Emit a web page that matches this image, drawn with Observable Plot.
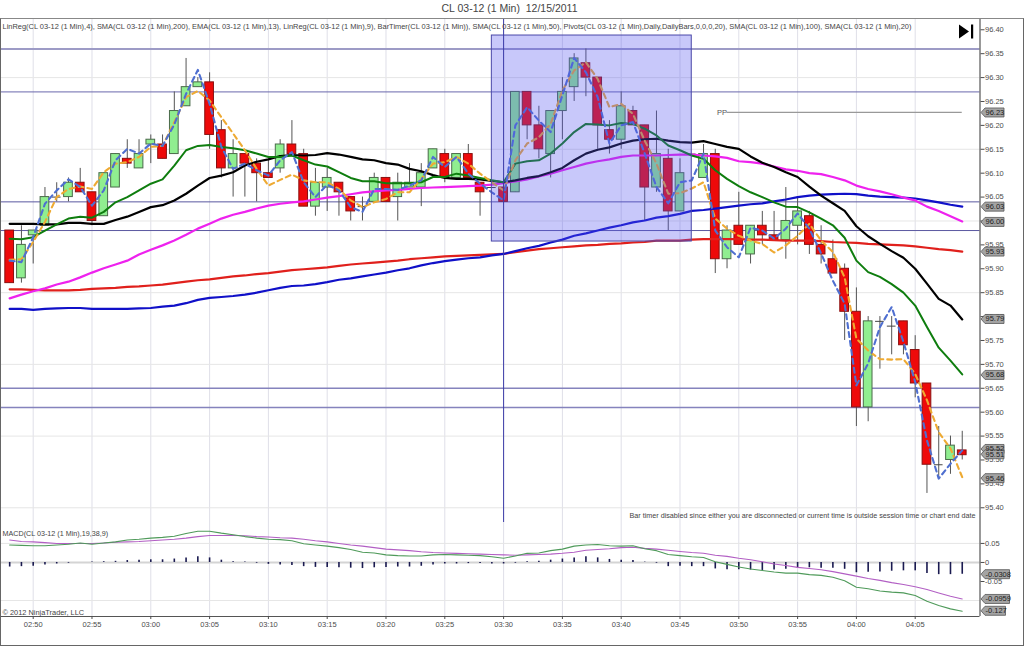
<!DOCTYPE html>
<html><head><meta charset="utf-8">
<script src="https://cdn.jsdelivr.net/npm/d3@7"></script>
<script src="https://cdn.jsdelivr.net/npm/@observablehq/plot@0.6"></script>
<style>
html,body{margin:0;padding:0;background:#fff;width:1024px;height:646px;overflow:hidden;font-family:"Liberation Sans",Arial,sans-serif}
#title{height:18px;line-height:17px;text-align:center;font-size:10.5px;color:#444;white-space:pre;padding-right:5px}
svg{display:block}
#outer{position:absolute;left:0;top:18px;width:1024px;height:628px;box-sizing:border-box;border:1px solid #666;border-top-color:#888;pointer-events:none}
</style></head><body>
<div id="title">CL 03-12 (1 Min)  12/15/2011</div>
<div id="main"></div><div id="macd"></div><div id="outer"></div>
<script>
const open_=[95.98,95.88,95.97,95.99,96.05,96.05,96.08,96.06,96.01,96.07,96.13,96.11,96.16,96.16,96.14,96.24,96.28,96.29,96.19,96.11,96.14,96.12,96.10,96.11,96.16,96.14,96.03,96.07,96.08,96.05,96.03,96.04,96.09,96.05,96.07,96.07,96.11,96.14,96.09,96.14,96.08,96.07,96.07,96.06,96.27,96.20,96.14,96.23,96.28,96.33,96.30,96.19,96.17,96.23,96.20,96.07,96.13,96.02,96.14,96.09,96.14,95.92,95.99,95.93,95.99,95.97,95.96,95.99,96.01,95.95,95.92,95.90,95.81,95.61,95.79,95.78,95.79,95.73,95.66,95.49,95.50,95.52];
const close_=[95.87,95.95,95.98,96.05,96.05,96.08,96.06,96.00,96.10,96.14,96.12,96.14,96.17,96.13,96.23,96.28,96.29,96.18,96.11,96.14,96.12,96.10,96.09,96.16,96.14,96.03,96.08,96.09,96.06,96.02,96.03,96.09,96.04,96.08,96.08,96.10,96.15,96.09,96.14,96.09,96.06,96.07,96.04,96.27,96.20,96.15,96.23,96.27,96.34,96.30,96.20,96.17,96.24,96.20,96.07,96.14,96.02,96.10,96.14,96.14,95.92,95.98,95.95,95.99,95.97,95.96,96.00,96.02,95.95,95.93,95.89,95.81,95.61,95.79,95.79,95.78,95.74,95.66,95.49,95.49,95.53,95.51];
const high_=[95.98,95.99,95.98,96.07,96.08,96.09,96.11,96.06,96.10,96.14,96.17,96.17,96.18,96.18,96.27,96.34,96.30,96.31,96.21,96.17,96.14,96.13,96.13,96.17,96.21,96.15,96.11,96.11,96.08,96.05,96.05,96.10,96.09,96.10,96.12,96.12,96.15,96.15,96.14,96.16,96.08,96.07,96.09,96.27,96.27,96.24,96.23,96.30,96.35,96.36,96.30,96.21,96.27,96.24,96.20,96.23,96.15,96.13,96.14,96.16,96.15,95.99,96.06,95.99,96.02,96.02,96.07,96.05,96.02,95.99,95.96,95.91,95.86,95.80,95.80,95.80,95.79,95.76,95.66,95.57,95.55,95.56];
const low_=[95.87,95.87,95.91,95.99,96.04,96.04,96.06,95.99,96.01,96.07,96.11,96.11,96.12,96.13,96.14,96.24,96.28,96.15,96.09,96.05,96.05,96.04,96.09,96.10,96.14,96.03,96.01,96.02,96.01,96.00,96.00,96.04,96.04,96.00,96.07,96.03,96.11,96.08,96.09,96.09,96.01,96.07,96.04,96.06,96.17,96.13,96.09,96.17,96.25,96.26,96.15,96.14,96.15,96.20,96.00,96.06,95.98,96.02,96.14,96.09,95.89,95.90,95.95,95.91,95.95,95.96,95.92,95.95,95.93,95.91,95.89,95.75,95.57,95.58,95.69,95.72,95.72,95.63,95.43,95.46,95.47,95.50];
const linReg4=[95.917,95.914,95.966,96.036,96.064,96.087,96.071,96.032,96.064,96.127,96.151,96.141,96.162,96.157,96.202,96.266,96.316,96.245,96.155,96.109,96.120,96.106,96.095,96.127,96.144,96.081,96.050,96.076,96.064,96.029,96.019,96.067,96.067,96.065,96.074,96.085,96.134,96.113,96.134,96.099,96.078,96.060,96.043,96.200,96.238,96.210,96.186,96.263,96.341,96.311,96.259,96.162,96.200,96.207,96.141,96.071,96.037,96.081,96.085,96.141,95.980,95.945,95.924,95.986,95.980,95.963,95.984,96.016,95.984,95.932,95.875,95.827,95.656,95.702,95.778,95.820,95.747,95.663,95.541,95.461,95.492,95.520];
const linReg9=[95.919,95.920,95.956,95.998,96.050,96.067,96.072,96.067,96.102,96.120,96.123,96.134,96.155,96.157,96.207,96.259,96.272,96.252,96.217,96.183,96.148,96.109,96.074,96.086,96.097,96.085,96.081,96.081,96.067,96.043,96.029,96.039,96.046,96.060,96.060,96.088,96.120,96.123,96.134,96.120,96.099,96.081,96.064,96.127,96.162,96.175,96.203,96.273,96.315,96.332,96.297,96.238,96.245,96.224,96.168,96.120,96.057,96.058,96.068,96.081,96.005,95.984,95.969,95.959,95.952,95.934,95.949,95.969,95.994,95.959,95.935,95.882,95.754,95.729,95.711,95.710,95.711,95.680,95.625,95.558,95.524,95.464];
const ema13=[95.963,95.962,95.966,95.980,95.993,96.005,96.009,96.007,96.019,96.039,96.050,96.064,96.078,96.087,96.116,96.148,96.157,96.159,96.155,96.152,96.148,96.141,96.134,96.134,96.137,96.127,96.118,96.114,96.102,96.090,96.083,96.083,96.079,96.079,96.079,96.081,96.092,96.092,96.099,96.095,96.090,96.085,96.081,96.120,96.125,96.127,96.141,96.162,96.186,96.203,96.202,96.200,96.205,96.203,96.193,96.179,96.158,96.148,96.137,96.130,96.106,96.088,96.073,96.060,96.050,96.039,96.030,96.029,96.018,96.005,95.991,95.965,95.917,95.893,95.883,95.868,95.850,95.823,95.778,95.735,95.708,95.679];
const sma20=[95.994,95.994,95.994,95.993,95.993,95.996,95.996,95.994,95.994,96.002,96.009,96.019,96.029,96.033,96.043,96.057,96.074,96.090,96.095,96.102,96.116,96.124,96.129,96.136,96.138,96.137,96.138,96.142,96.139,96.134,96.129,96.127,96.121,96.118,96.109,96.104,96.096,96.090,96.088,96.088,96.087,96.084,96.081,96.085,96.090,96.094,96.102,96.111,96.127,96.141,96.149,96.154,96.162,96.168,96.171,96.172,96.168,96.165,96.164,96.167,96.161,96.155,96.151,96.135,96.122,96.113,96.102,96.092,96.072,96.053,96.037,96.021,95.989,95.968,95.952,95.937,95.923,95.900,95.869,95.837,95.823,95.794];
const sma50=[95.838,95.846,95.853,95.859,95.867,95.873,95.882,95.892,95.901,95.909,95.917,95.930,95.940,95.949,95.959,95.971,95.984,95.994,96.005,96.013,96.019,96.026,96.032,96.036,96.039,96.041,96.045,96.049,96.052,96.056,96.060,96.062,96.064,96.065,96.067,96.069,96.070,96.071,96.072,96.073,96.074,96.076,96.079,96.083,96.087,96.093,96.099,96.106,96.113,96.120,96.125,96.129,96.134,96.137,96.137,96.137,96.138,96.139,96.139,96.137,96.135,96.132,96.125,96.123,96.120,96.114,96.108,96.105,96.100,96.098,96.092,96.085,96.074,96.067,96.062,96.056,96.049,96.043,96.030,96.021,96.010,95.999];
const sma100=[95.816,95.816,95.814,95.816,95.817,95.818,95.818,95.816,95.816,95.816,95.816,95.817,95.818,95.821,95.823,95.828,95.835,95.839,95.841,95.843,95.846,95.850,95.855,95.860,95.864,95.865,95.868,95.872,95.877,95.880,95.884,95.888,95.892,95.897,95.901,95.907,95.912,95.916,95.919,95.922,95.924,95.928,95.931,95.937,95.943,95.948,95.955,95.961,95.969,95.974,95.980,95.986,95.991,95.997,96.001,96.007,96.010,96.015,96.021,96.023,96.026,96.029,96.032,96.035,96.037,96.041,96.045,96.050,96.053,96.055,96.056,96.057,96.056,96.053,96.051,96.050,96.049,96.047,96.043,96.039,96.034,96.030];
const sma200=[95.857,95.857,95.856,95.855,95.855,95.855,95.856,95.858,95.859,95.860,95.862,95.863,95.865,95.867,95.870,95.873,95.876,95.878,95.881,95.884,95.886,95.889,95.891,95.894,95.897,95.899,95.901,95.903,95.906,95.909,95.911,95.913,95.915,95.917,95.920,95.922,95.924,95.926,95.927,95.928,95.929,95.930,95.931,95.935,95.938,95.941,95.943,95.945,95.947,95.949,95.950,95.952,95.953,95.955,95.956,95.959,95.959,95.959,95.961,95.962,95.962,95.962,95.962,95.961,95.961,95.960,95.959,95.959,95.959,95.958,95.956,95.955,95.954,95.952,95.951,95.950,95.949,95.947,95.944,95.941,95.939,95.936];
const macdLine=[.046,.045,.044,.044,.046,.048,.051,.048,.051,.054,.059,.061,.064,.066,.069,.076,.082,.082,.077,.073,.068,.064,.061,.060,.057,.049,.046,.043,.039,.034,.027,.025,.020,.018,.017,.017,.020,.021,.020,.019,.018,.015,.011,.017,.024,.025,.031,.035,.043,.046,.047,.044,.043,.044,.036,.031,.021,.018,.015,.013,.002,-.005,-.012,-.017,-.021,-.025,-.028,-.028,-.032,-.034,-.039,-.048,-.065,-.069,-.075,-.078,-.080,-.087,-.102,-.113,-.122,-.128];
const signalLine=[.059,.055,.054,.052,.050,.050,.050,.050,.051,.053,.054,.055,.057,.059,.061,.064,.068,.071,.071,.071,.070,.068,.067,.065,.064,.061,.057,.054,.050,.046,.043,.039,.035,.033,.031,.028,.026,.025,.024,.023,.022,.021,.020,.019,.020,.021,.022,.024,.027,.032,.034,.036,.039,.040,.037,.035,.032,.029,.026,.024,.019,.016,.011,.007,.002,-.004,-.008,-.013,-.016,-.019,-.024,-.030,-.036,-.042,-.047,-.053,-.058,-.064,-.071,-.080,-.089,-.096];
const macdHist=[-.012,-.011,-.010,-.007,-.004,-.002,0,.001,.002,.003,.005,.006,.007,.007,.009,.012,.015,.012,.006,.002,.001,-.002,-.005,-.007,-.008,-.011,-.013,-.013,-.014,-.015,-.016,-.014,-.013,-.012,-.012,-.010,-.007,-.004,-.004,-.003,-.003,-.004,-.004,-.002,.002,.003,.006,.009,.012,.015,.012,.008,.006,.005,.001,-.002,-.011,-.010,-.011,-.011,-.017,-.019,-.019,-.020,-.021,-.020,-.018,-.014,-.014,-.015,-.015,-.018,-.027,-.026,-.025,-.023,-.022,-.022,-.029,-.032,-.032,-.031];
const hLevels=[[96.36,2,"#9d9bc6"],[96.27,1,"#6a68ad"],[96.04,1,"#5a58a0"],[95.98,1,"#5a58a0"],[95.65,1.5,"#8583bd"],[95.61,1.5,"#8583bd"]];
const priceTicks=d3.range(0,21).map(i=>+(95.40+i*0.05).toFixed(2));
const priceGrid=[96.30,96.15,96.00,95.85,95.70,95.55,95.40];
const priceTags=["96.23","96.03","96.00","95.93","95.79","95.68","95.52","95.51","95.46"];
const priceTagLevels=[96.227,96.030,95.998,95.936,95.795,95.678,95.523,95.512,95.462];
const macdTags=["-0.0308","-0.0959","-0.127"];
const timeLabels=["02:50","02:55","03:00","03:05","03:10","03:15","03:20","03:25","03:30","03:35","03:40","03:45","03:50","03:55","04:00","04:05"];
const timeBars=timeLabels.map((_,i)=>2+i*5);
const pp=[{x1:61,x2:81,v:96.227}];
const box=[{x1:41,x2:58,y1:95.957,y2:96.388}];
const cursorBar=42;
const legendText="LinReg(CL 03-12 (1 Min),4), SMA(CL 03-12 (1 Min),200), EMA(CL 03-12 (1 Min),13), LinReg(CL 03-12 (1 Min),9), BarTimer(CL 03-12 (1 Min)), SMA(CL 03-12 (1 Min),50), Pivots(CL 03-12 (1 Min),Daily,DailyBars,0,0,0,20), SMA(CL 03-12 (1 Min),100), SMA(CL 03-12 (1 Min),20)";
const timerText="Bar timer disabled since either you are disconnected or current time is outside session time or chart end date";

const bars=open_.map((o,i)=>({i,o,c:close_[i],h:high_[i],l:low_[i]}));
const xDomain=[-0.78,82.51];
const yDomain=[95.3692,96.4236];
const mDomain=[-0.142,0.105];
const FONT="'Liberation Sans',Arial,sans-serif";
const tag=w=>({draw(c){c.moveTo(1,0);c.lineTo(5,-4.5);c.lineTo(w,-4.5);c.lineTo(w,4.5);c.lineTo(5,4.5);c.closePath();}});
const skip={draw(c){c.moveTo(-21,-7);c.lineTo(-11,0);c.lineTo(-21,7);c.closePath();c.moveTo(-9,-7);c.lineTo(-6.8,-7);c.lineTo(-6.8,7);c.lineTo(-9,7);c.closePath();}};
const line=(arr,stroke,w,extra={})=>Plot.line(arr,{x:(d,i)=>i,y:d=>d,stroke,strokeWidth:w,...extra});
const dash={strokeDasharray:"5,4"};
const up=bars.filter(d=>d.c>d.o), down=bars.filter(d=>d.c<d.o), doji=bars.filter(d=>d.c===d.o);
const HW=0.37;

const main=Plot.plot({
  width:1024,height:504,marginLeft:0,marginRight:44.5,marginTop:0,marginBottom:0,
  x:{domain:xDomain,axis:null},y:{domain:yDomain,axis:null},
  style:{fontFamily:FONT,color:"#4c4c4c",background:"transparent"},
  marks:[
    Plot.gridX(timeBars,{stroke:"#dfdfe8",strokeOpacity:1}),
    Plot.gridY(priceGrid,{stroke:"#e6e6e6",strokeOpacity:1}),
    Plot.ruleY(hLevels,{y:d=>d[0],strokeWidth:d=>d[1],stroke:d=>d[2]}),
    Plot.ruleX(bars,{x:"i",y1:"l",y2:"h",stroke:"#555",strokeWidth:1}),
    Plot.rect(up,{x1:d=>d.i-HW,x2:d=>d.i+HW,y1:"o",y2:"c",fill:"#90ee90",stroke:"#4a6a4a",inset:0}),
    Plot.rect(down,{x1:d=>d.i-HW,x2:d=>d.i+HW,y1:"o",y2:"c",fill:"#ee0a0a",stroke:"#8a1010",inset:0}),
    Plot.ruleY(doji,{x1:d=>d.i-HW,x2:d=>d.i+HW,y:"o",stroke:"#444"}),
    line(sma200,"#e0201c",2.2),
    line(sma100,"#1010c8",2.2),
    line(sma50,"#ee22ee",2.2),
    line(sma20,"#000",2.2),
    line(ema13,"#0e7d0e",2),
    line(linReg9,"#eeaa33",2.1,dash),
    line(linReg4,"#4f6fd0",2.1,dash),
    Plot.ruleY(pp,{x1:"x1",x2:"x2",y:"v",stroke:"#999",strokeWidth:1.2}),
    Plot.text(pp,{x:"x1",y:"v",text:()=>"PP",textAnchor:"end",dx:0,fontSize:7.5,fill:"#555"}),
    Plot.rect(box,{x1:"x1",x2:"x2",y1:"y1",y2:"y2",fill:"#5555ee",fillOpacity:0.32,stroke:"#4a48a8",strokeWidth:1}),
    Plot.ruleX([cursorBar],{stroke:"#3c3ca8",strokeWidth:1}),
    Plot.ruleX([xDomain[1]],{stroke:"#555",strokeWidth:1.2}),
    Plot.ruleY([yDomain[0]],{stroke:"#555",strokeWidth:1.2}),
    Plot.axisY(priceTicks,{anchor:"right",tickFormat:d=>d.toFixed(2),tickSize:4,tickPadding:1,fontSize:7.5,label:null}),
    Plot.text([legendText],{text:d=>d,frameAnchor:"top-left",dx:2,dy:5.5,fontSize:7.45,fill:"#444",lineWidth:Infinity}),
    Plot.text([timerText],{text:d=>d,frameAnchor:"bottom-right",dx:-4.5,dy:-5,fontSize:7.2,fill:"#444"}),
    Plot.dot(priceTagLevels,{y:d=>d,frameAnchor:"right",symbol:tag(24),fill:"#a4a4a4",stroke:"#555",strokeWidth:.8}),
    Plot.text(priceTags,{text:d=>d,y:(d,i)=>priceTagLevels[i],frameAnchor:"right",textAnchor:"start",dx:5.5,fontSize:7.5,fill:"#222"}),
    Plot.dot([0],{frameAnchor:"top-right",dy:13,symbol:skip,fill:"#000",stroke:"none"})
  ]
});
document.getElementById("main").append(main);

const macd=Plot.plot({
  width:1024,height:124,marginLeft:0,marginRight:44.5,marginTop:0,marginBottom:30,
  x:{domain:xDomain,axis:null},y:{domain:mDomain,axis:null},
  style:{fontFamily:FONT,color:"#4c4c4c",background:"transparent"},
  marks:[
    Plot.gridX(timeBars,{stroke:"#dfdfe8",strokeOpacity:1}),
    Plot.gridY([0.05,-0.1],{stroke:"#e6e6e6",strokeOpacity:1}),
    Plot.ruleY([0],{stroke:"#d4d4d4",strokeWidth:2}),
    Plot.ruleX(macdHist,{x:(d,i)=>i,y1:0,y2:d=>d,stroke:"#1a1a50",strokeWidth:1.6}),
    line(signalLine,"#b25fc4",1.1),
    line(macdLine,"#4f9a5a",1.1),
    Plot.ruleX([xDomain[1]],{stroke:"#555",strokeWidth:1.2}),
    Plot.ruleY([mDomain[0]],{stroke:"#555",strokeWidth:1.2}),
    Plot.axisY([0.05,0,-0.05],{anchor:"right",tickFormat:d=>d===0?"0":d.toFixed(2),tickSize:4,tickPadding:1,fontSize:7.5,label:null}),
    Plot.axisX(timeBars,{anchor:"bottom",tickFormat:d=>timeLabels[timeBars.indexOf(d)],tickSize:3,tickPadding:2,fontSize:7.5,label:null}),
    Plot.text(["MACD(CL 03-12 (1 Min),19,38,9)"],{text:d=>d,frameAnchor:"top-left",dx:2,dy:8,fontSize:7.2,fill:"#444"}),
    Plot.text(["\u00a9 2012 NinjaTrader, LLC"],{text:d=>d,frameAnchor:"bottom-left",dx:2,dy:-1.5,fontSize:7.4,fill:"#444"}),
    Plot.dot(macdTags,{y:d=>+d,frameAnchor:"right",symbol:tag(29.5),fill:"#a4a4a4",stroke:"#555",strokeWidth:.8,filter:d=>d.length>6}),
    Plot.dot(macdTags,{y:d=>+d,frameAnchor:"right",symbol:tag(25.5),fill:"#a4a4a4",stroke:"#555",strokeWidth:.8,filter:d=>d.length<=6}),
    Plot.text(macdTags,{text:d=>d,y:d=>+d,frameAnchor:"right",textAnchor:"start",dx:5.5,fontSize:7.5,fill:"#222"})
  ]
});
document.getElementById("macd").append(macd);
</script>
</body></html>
